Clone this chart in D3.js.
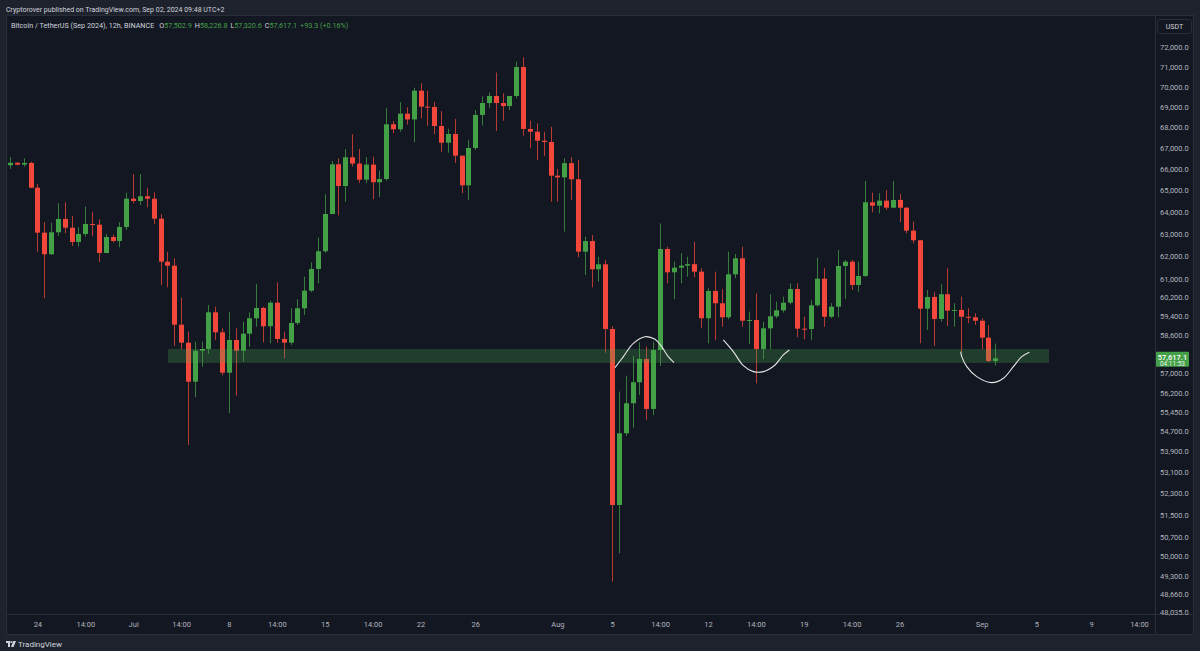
<!DOCTYPE html>
<html><head><meta charset="utf-8">
<script src="https://cdn.jsdelivr.net/npm/d3@7"></script>
<style>html,body{margin:0;padding:0;background:#1e222d;overflow:hidden}svg{display:block}</style>
</head><body><svg id="c" width="1200" height="651"></svg>
<script>
// ---- DATA (12h candles, BTC/USDT Sep 2024 futures, first bar Jun 22 02:00 UTC+2) ----
const firstBar = "2024-06-22T02:00";
const openPrices = [
66170,66290,66200,66280,65115,63048,62079,63066,63671,63274,
62629,62989,63443,63411,62137,62854,62674,63306,64604,64497,
64715,64604,63684,61751,61574,59022,58266,56660,57933,58004,
59550,58702,57027,58380,57933,58643,59295,59735,58956,59962,
58421,58266,59096,59722,60480,61428,62213,63898,66216,65194,
66550,66250,65490,66200,65370,65523,68143,67900,68663,68380,
69805,69010,68994,68060,67250,67670,66625,65225,66995,68600,
69190,69540,69190,69040,69540,71000,67915,67780,67345,67285,
65677,65600,66270,65510,62195,62670,61415,61635,58842,51866,
54603,55790,56636,57590,55562,57960,62315,61282,61485,61574,
61640,61310,59295,60467,59937,59337,61195,61900,59190,59220,
58004,58870,59380,59635,59962,60554,58854,58840,59850,61002,
59360,59790,61560,61750,60728,61122,64437,64280,64512,64188,
64545,64188,63140,62706,59705,60208,59265,60324,59620,59650,
59360,59337,59190,58475,57502.9];
const highPrices = [
66560,66310,66500,66340,65290,63520,63500,64391,64437,63807,
63292,64234,64003,63657,62990,62960,63520,64882,65758,65758,
65115,64900,63900,62195,61900,60177,58733,58307,58307,59864,
59790,58870,59550,58870,59150,59550,60771,59790,60048,60845,
58730,59722,60109,61090,61720,62822,64808,66373,66502,66940,
67656,66947,66550,66580,65920,68960,68305,69230,68980,69955,
70175,69805,69245,68790,67925,68400,66625,67395,68845,69520,
69705,70720,69670,69555,71270,71495,68320,68190,67780,68025,
65990,66500,66550,66420,62865,62940,61970,61826,58968,56257,
56905,57710,58280,58100,58307,63470,62418,61751,62124,61970,
62640,61460,60584,61310,60540,62195,62090,62418,59580,60364,
59150,60325,60005,60220,60800,60800,59363,60078,61928,61460,
59940,62270,61826,61826,61750,65430,64885,64855,65000,65430,
64810,64205,63548,62720,60510,60410,60760,61460,59940,60220,
59722,59510,59295,59010,58226.8];
const lowPrices = [
66000,66170,66100,65090,62195,60152,62060,62899,63021,62449,
62418,62867,62899,61738,62130,62600,62390,63170,64391,64313,
64206,63443,60728,60628,58140,57991,54146,56030,57273,57797,
58380,56920,55391,56095,57480,58100,58939,58282,58240,58266,
57620,58170,59010,59436,60410,60800,62150,63890,63835,64465,
66103,65335,65320,64575,64680,65440,67705,67784,68125,67270,
68437,68070,67670,66815,66770,66280,64860,64540,66900,68085,
68930,67820,68320,68845,69425,67590,66980,66420,66612,64465,
64465,63094,64555,61945,61164,60627,60870,57850,49091,50101,
54497,54822,56122,55125,55324,57302,60800,60110,60800,61090,
61064,58896,58240,58380,58939,59250,61020,58939,58212,56590,
57578,58004,59295,59533,59890,58493,58408,58380,59790,58939,
59295,59337,60120,60510,60440,61080,63977,63930,64080,64160,
63520,63020,62570,58240,58800,58140,59150,58968,58939,57860,
59085,59010,57990,57480,57320.6];
const closePrices = [
66290,66200,66280,65115,63048,62079,63066,63671,63274,62629,
62989,63443,63411,62137,62854,62674,63306,64604,64497,64715,
64604,63684,61751,61574,59022,58266,56660,57933,58004,59550,
58702,57027,58380,57933,58643,59295,59735,58956,59962,58421,
58266,59096,59722,60480,61428,62213,63898,66216,65194,66550,
66250,65490,66200,65370,65523,68143,67900,68663,68380,69805,
69010,68994,68060,67250,67670,66625,65225,66995,68600,69190,
69540,69190,69040,69540,71000,67915,67780,67345,67285,65677,
65600,66270,65510,62195,62670,61415,61635,58842,51866,54603,
55790,56636,57590,55562,57960,62315,61282,61485,61574,61640,
61310,59295,60467,59937,59337,61195,61900,59190,59220,58004,
58870,59380,59635,59962,60554,58854,58840,59850,61002,59360,
59790,61560,61750,60728,61122,64437,64280,64512,64188,64545,
64188,63140,62706,59705,60208,59265,60324,59620,59650,59360,
59337,59190,58475,57502.9,57617.1];

const priceTicks = [72000,71000,70000,69000,68000,67000,66000,65000,64000,63000,62000,61000,
  60200,59400,58600,57800,57000,56200,55450,54700,53900,53100,52300,51500,50700,50000,49300,48660,48035];
const timeTickDates = ["2024-06-24T02:00","2024-06-27T14:00","2024-07-01T02:00","2024-07-04T14:00",
  "2024-07-08T02:00","2024-07-11T14:00","2024-07-15T02:00","2024-07-18T14:00","2024-07-22T02:00",
  "2024-07-26T02:00","2024-08-01T02:00","2024-08-05T02:00","2024-08-08T14:00","2024-08-12T02:00",
  "2024-08-15T14:00","2024-08-19T02:00","2024-08-22T14:00","2024-08-26T02:00","2024-09-01T02:00",
  "2024-09-05T02:00","2024-09-09T02:00","2024-09-12T14:00"];
const timeTickLabels = ["24","14:00","Jul","14:00","8","14:00","15","14:00","22","26","Aug","5","14:00",
  "12","14:00","19","14:00","26","Sep","5","9","14:00"];

// support zone (drawing)
const zoneDates = ["2024-07-03T15:00","2024-09-06T00:18"];
const zonePrices = [57426, 58005];
// hand-drawn curves: [date, price]
const curve1 = [["2024-08-05T07:00",57232],["2024-08-05T21:40",57685],["2024-08-06T15:12",58240],
  ["2024-08-07T11:42",58518],["2024-08-08T05:12",58408],["2024-08-08T17:00",58100],
  ["2024-08-09T04:30",57685],["2024-08-09T14:36",57438]];
const curve2 = [["2024-08-13T05:00",58380],["2024-08-13T22:30",57893],["2024-08-14T16:12",57314],
  ["2024-08-15T09:42",57069],["2024-08-16T03:12",57069],["2024-08-16T23:42",57343],
  ["2024-08-17T14:12",57755],["2024-08-18T00:48",57962]];
const curve3 = [["2024-08-30T13:24",57893],["2024-08-30T15:12",57685],["2024-08-31T00:00",57273],
  ["2024-08-31T17:30",56864],["2024-09-01T19:48",56620],["2024-09-02T16:12",56799],
  ["2024-09-03T09:42",57273],["2024-09-04T00:24",57685],["2024-09-04T13:48",57868]];

const headerText = "Cryptorover published on TradingView.com, Sep 02, 2024 09:48 UTC+2";
const symbolText = "Bitcoin / TetherUS (Sep 2024), 12h, BINANCE";
const ohlcLabels = ["O","H","L","C"];
const lastChange = "+93.3 (+0.16%)";
const countdown = "04:11:53";

// ---- RENDER ----
const W = 1200, H = 651;
const plotL = 6, plotT = 15, plotR = 1155, plotB = 614;
const axisR = 1193, axisB = 634;
const UP = "#43a047", DOWN = "#f2473a";
const BG = "#131722", FRAME = "#1e222d", LINE = "#2a2e39", TXT = "#b2b5be";
const font = "Roboto, 'Noto Sans', sans-serif";

const parse = s => new Date(s + ":00Z");
const t0 = parse(firstBar);
const n = closePrices.length;
const barMs = 12 * 3600 * 1000;
const candles = closePrices.map((c, i) => ({
  t: new Date(t0.getTime() + i * barMs), o: openPrices[i], h: highPrices[i], l: lowPrices[i], c
}));

const x = d3.scaleUtc()
  .domain([t0, new Date(t0.getTime() + (n - 1) * barMs)])
  .range([10, 995.3]);
const y = d3.scaleLog().domain([48035, 72000]).range([612, 47.5]);

const svg = d3.select("#c");
svg.append("rect").attr("width", W).attr("height", H).attr("fill", FRAME);
svg.append("rect").attr("x", plotL).attr("y", plotT).attr("width", axisR - plotL).attr("height", axisB - plotT)
  .attr("fill", BG);

const clip = svg.append("defs").append("clipPath").attr("id", "pc");
clip.append("rect").attr("x", plotL).attr("y", plotT).attr("width", plotR - plotL).attr("height", plotB - plotT);
const plot = svg.append("g").attr("clip-path", "url(#pc)");

// candles
const bw = 5;
const cg = plot.append("g");
cg.selectAll("line.w").data(candles).join("line")
  .attr("x1", d => Math.round(x(d.t)) + 0.5).attr("x2", d => Math.round(x(d.t)) + 0.5)
  .attr("y1", d => y(d.h)).attr("y2", d => y(d.l))
  .attr("stroke", d => d.c >= d.o ? UP : DOWN).attr("stroke-opacity", 0.75).attr("stroke-width", 1);
cg.selectAll("rect.b").data(candles).join("rect")
  .attr("x", d => Math.round(x(d.t)) + 0.5 - bw / 2)
  .attr("y", d => y(Math.max(d.o, d.c)))
  .attr("width", bw)
  .attr("height", d => Math.max(1, y(Math.min(d.o, d.c)) - y(Math.max(d.o, d.c))))
  .attr("fill", d => d.c >= d.o ? UP : DOWN);

// zone
plot.append("rect")
  .attr("x", x(parse(zoneDates[0]))).attr("width", x(parse(zoneDates[1])) - x(parse(zoneDates[0])))
  .attr("y", y(zonePrices[1])).attr("height", y(zonePrices[0]) - y(zonePrices[1]))
  .attr("fill", "#4caf50").attr("fill-opacity", 0.25);

// curves
const line = d3.line().x(d => x(parse(d[0]))).y(d => y(d[1])).curve(d3.curveCatmullRom.alpha(0.5));
[curve1, curve2, curve3].forEach(cv => {
  plot.append("path").attr("d", line(cv)).attr("fill", "none")
    .attr("stroke", "#e6e6e6").attr("stroke-width", 1.1);
});

// frame lines
svg.append("line").attr("x1", plotL).attr("x2", axisR).attr("y1", plotT + 0.5).attr("y2", plotT + 0.5).attr("stroke", LINE);
svg.append("line").attr("x1", plotL).attr("x2", axisR).attr("y1", plotB + 0.5).attr("y2", plotB + 0.5).attr("stroke", LINE);
svg.append("line").attr("x1", plotL).attr("x2", axisR).attr("y1", axisB + 0.5).attr("y2", axisB + 0.5).attr("stroke", LINE);
svg.append("line").attr("x1", plotR + 0.5).attr("x2", plotR + 0.5).attr("y1", plotT).attr("y2", axisB).attr("stroke", LINE);
svg.append("line").attr("x1", axisR + 0.5).attr("x2", axisR + 0.5).attr("y1", plotT).attr("y2", axisB).attr("stroke", LINE);
svg.append("line").attr("x1", plotL + 0.5).attr("x2", plotL + 0.5).attr("y1", plotT).attr("y2", axisB).attr("stroke", LINE);

// price axis
const fmt = d3.format(",.1f");
const yAxis = d3.axisRight(y).tickValues(priceTicks).tickFormat(fmt).tickSize(0).tickPadding(5);
const ya = svg.append("g").attr("transform", `translate(${plotR},0)`).call(yAxis);
ya.select(".domain").remove();
ya.selectAll("text").attr("fill", TXT).attr("font-family", font).attr("font-size", 7.5);

// USDT box
svg.append("rect").attr("x", 1157.5).attr("y", 19.5).attr("width", 34).attr("height", 14)
  .attr("fill", BG).attr("stroke", LINE).attr("rx", 2);
svg.append("text").attr("x", 1174.5).attr("y", 29).attr("text-anchor", "middle")
  .attr("fill", "#d1d4dc").attr("font-family", font).attr("font-size", 7).text("USDT");

// last price label
const last = candles[n - 1];
const ly = y(last.c);
svg.append("rect").attr("x", 1156).attr("y", ly - 6.5).attr("width", 33).attr("height", 15)
  .attr("fill", "#43a047").attr("rx", 1);
svg.append("text").attr("x", 1172.5).attr("y", ly + 1.2).attr("text-anchor", "middle")
  .attr("fill", "#ffffff").attr("font-family", font).attr("font-size", 7.5).attr("font-weight", 500).text(fmt(last.c));
svg.append("text").attr("x", 1172.5).attr("y", ly + 7.6).attr("text-anchor", "middle")
  .attr("fill", "#e8f5e9").attr("font-family", font).attr("font-size", 6.5).text(countdown);

// time axis
const xa = svg.append("g").attr("transform", `translate(0,${plotB})`)
  .call(d3.axisBottom(x).tickValues(timeTickDates.map(parse))
    .tickFormat((d, i) => timeTickLabels[i]).tickSize(0).tickPadding(8));
xa.select(".domain").remove();
xa.selectAll("text").attr("fill", TXT).attr("font-family", font).attr("font-size", 7.5);

// header & legend
svg.append("text").attr("x", 6).attr("y", 11.5).attr("fill", "#d1d4dc").attr("font-family", font)
  .attr("font-size", 7).text(headerText);
const leg = svg.append("text").attr("x", 11).attr("y", 27.5).attr("font-family", font).attr("font-size", 7.2)
  .attr("fill", "#d1d4dc");
leg.append("tspan").text(symbolText);
const vals = [last.o, last.h, last.l, last.c];
ohlcLabels.forEach((lab, i) => {
  leg.append("tspan").attr("dx", i === 0 ? 5 : 3).attr("fill", "#d1d4dc").text(lab);
  leg.append("tspan").attr("fill", UP).text(fmt(vals[i]));
});
leg.append("tspan").attr("dx", 3).attr("fill", UP).text(lastChange);

// TradingView footer logo
const logo = svg.append("g").attr("transform", "translate(6,641)").attr("fill", "#d1d4dc");
logo.append("path").attr("d", "M0,0 H4 V6 H2 V2 H0 Z");
logo.append("circle").attr("cx", 5.3).attr("cy", 1).attr("r", 1);
logo.append("path").attr("d", "M7.2,0 H10 L7.5,6 H5 Z");
svg.append("text").attr("x", 18).attr("y", 647).attr("fill", "#d1d4dc").attr("font-family", font)
  .attr("font-size", 8).text("TradingView");
</script></body></html>
